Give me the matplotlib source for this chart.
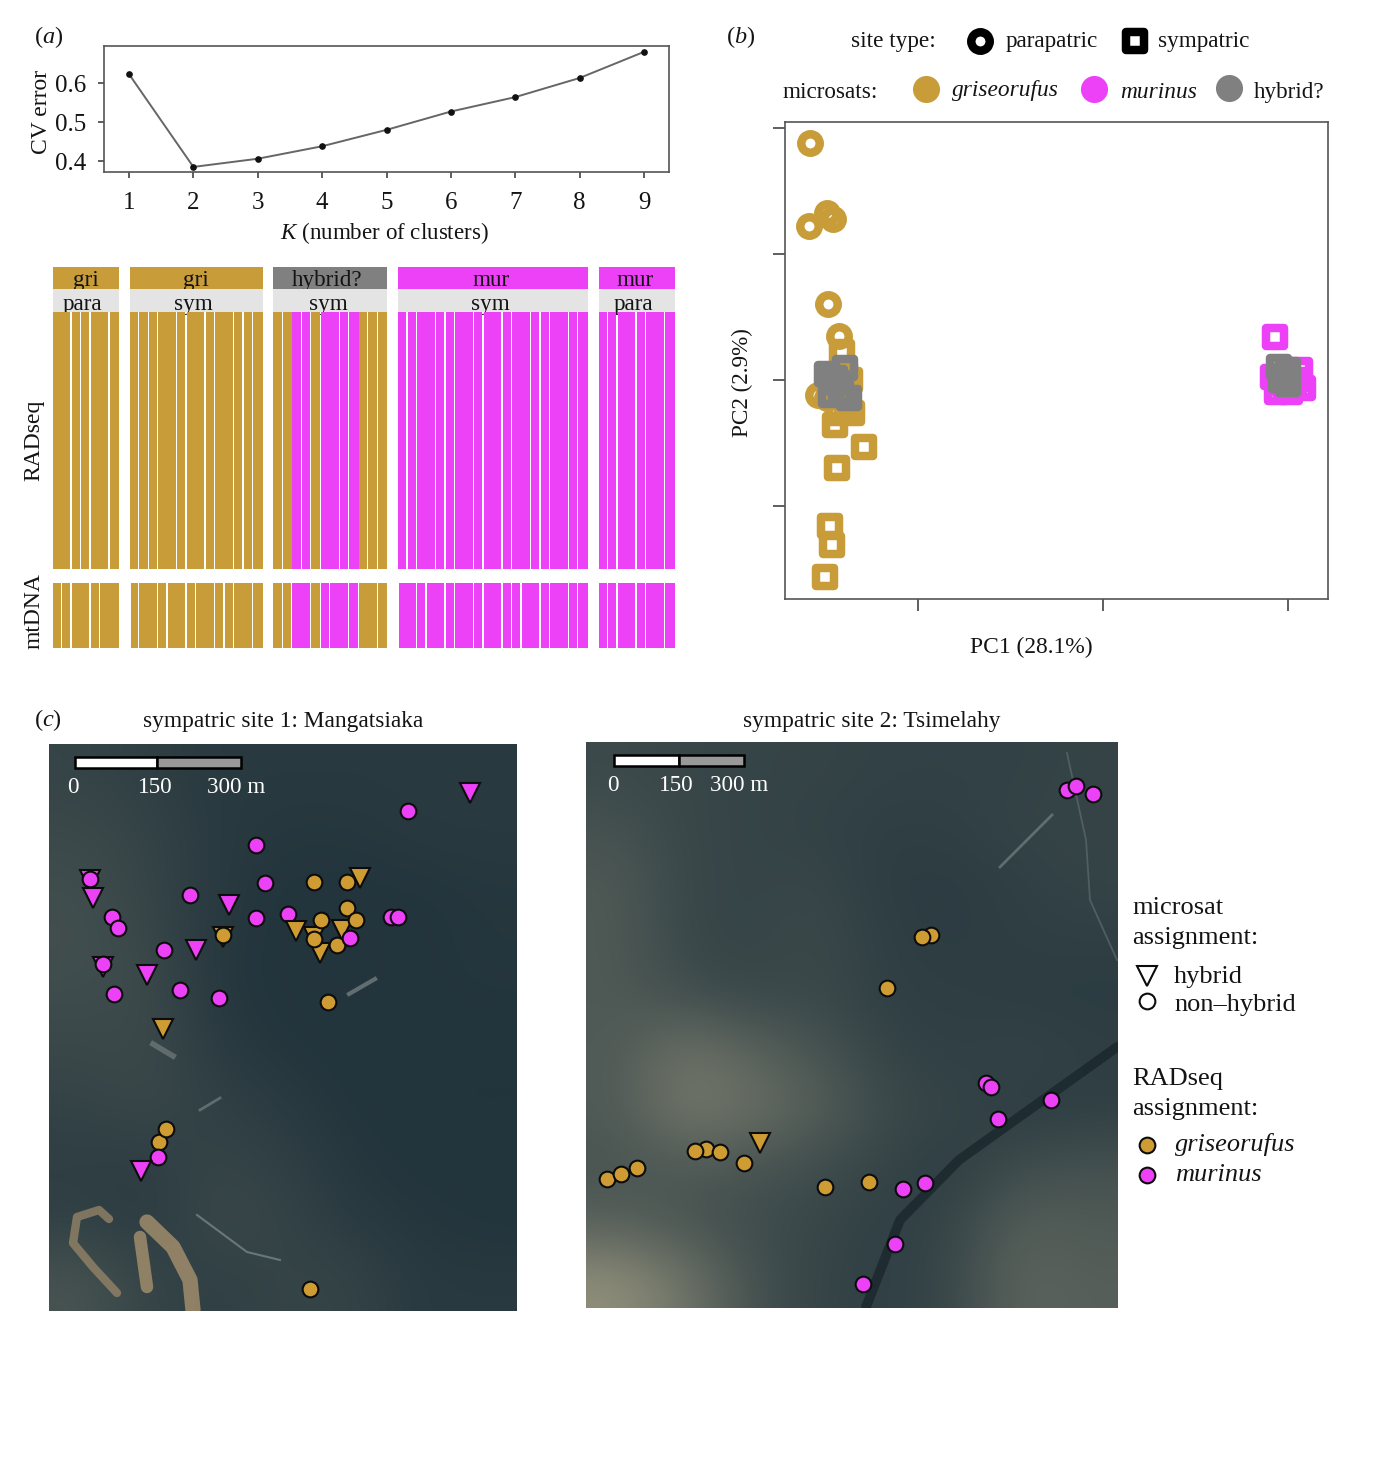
import numpy as np
import matplotlib
matplotlib.use("Agg")
import matplotlib.pyplot as plt
from matplotlib.markers import MarkerStyle
from matplotlib.patches import Rectangle

plt.rcParams['font.family'] = ['Liberation Serif', 'DejaVu Serif']
plt.rcParams['mathtext.fontset'] = 'custom'
plt.rcParams['mathtext.rm'] = 'Liberation Serif'
plt.rcParams['mathtext.it'] = 'Liberation Serif:italic'
plt.rcParams['font.size'] = 16.7

GOLD = '#C79C39'
MAG = '#EC41F6'
GREY = '#808080'
TXT = '#141414'

# panel a, CV error
k_values = [1, 2, 3, 4, 5, 6, 7, 8, 9]
cv_error = [0.623, 0.385, 0.406, 0.438, 0.480, 0.527, 0.564, 0.613, 0.680]

# panel a, ancestry bars: groups of individuals, runs of neighbouring individuals
group_top = ['gri', 'gri', 'hybrid?', 'mur', 'mur']
group_top_col = [GOLD, GOLD, GREY, MAG, MAG]
group_site = ['para', 'sym', 'sym', 'sym', 'para']
group_sizes = [7, 14, 12, 20, 8]
rad_runs = [[2, 1, 1, 2, 1],
            [1, 1, 1, 2, 1, 2, 1, 2, 1, 1, 1],
            [1, 1, 1, 1, 1, 2, 1, 1, 1, 1, 1],
            [1, 1, 2, 1, 1, 2, 1, 2, 1, 2, 1, 1, 2, 1, 1],
            [1, 1, 2, 1, 2, 1]]
rad_cols = ['ggggg', 'ggggggggggg', 'ggmmgmmmggg', 'mmmmmmmmmmmmmmm', 'mmmmmm']
rad_joined = [[], [], [1, 7], [], []]
mt_runs = [[1, 1, 2, 1, 2],
           [1, 2, 1, 2, 1, 2, 1, 1, 2, 1],
           [1, 1, 2, 1, 1, 2, 1, 2, 1],
           [2, 1, 2, 1, 2, 1, 2, 1, 1, 2, 1, 2, 1, 1],
           [1, 1, 2, 1, 2, 1]]
mt_cols = ['ggggg', 'gggggggggg', 'ggmgmmmgg', 'mmmmmmmmmmmmmm', 'mmmmmm']
mt_trim = [0, 1.2, 0, 1.2, 0]

# panel b, PCA scores
gri_para_x = [-0.0585, -0.0588, -0.0494, -0.0458, -0.0485, -0.0425, -0.0539, -0.0494]
gri_para_y = [0.1883, 0.1222, 0.1328, 0.1280, 0.0603, 0.0349, -0.0119, -0.0143]
gri_sym_x = [-0.0412, -0.0395, -0.0358, -0.0447, -0.0432, -0.0384, -0.0294, -0.0436, -0.0474, -0.0466, -0.0501, -0.0416, -0.0370]
gri_sym_y = [0.0225, 0.0056, -0.0260, -0.0357, -0.0262, -0.0198, -0.0534, -0.0701, -0.1156, -0.1310, -0.1566, -0.0095, 0.0]
mur_sym_x = [0.1930, 0.1919, 0.2065, 0.2081, 0.1941, 0.2011, 0.2043, 0.1984]
mur_sym_y = [0.0339, 0.0024, 0.0079, -0.0063, -0.0095, -0.0095, 0.0, -0.0040]
hyb_sym_x = [-0.0494, -0.0396, -0.0470, -0.0373, -0.0432, -0.0449, -0.0416, 0.1951, 0.2000, 0.1962, 0.2000, 0.1978]
hyb_sym_y = [0.0048, 0.0095, -0.0119, -0.0143, -0.0024, 0.0016, -0.0095, 0.0103, 0.0079, 0.0, -0.0032, 0.0032]

# panel c, sample sites in image pixels of each map
s1_gri_x = [264.7, 297.7, 298.3, 272, 307, 174.3, 265, 288, 279.3, 109.7, 117, 261.3]
s1_gri_y = [137.7, 138, 163.7, 175.7, 176.3, 191, 194.7, 200.7, 257.7, 398.3, 385.3, 544.7]
s1_mur_x = [358.7, 206.7, 216.3, 141, 207.3, 239.3, 62.7, 69, 115, 40.7, 54, 64.7, 131, 169.7, 300.7, 341.7, 348.7, 108.7]
s1_mur_y = [66.7, 101, 139.3, 151.3, 174, 170, 173.3, 184.3, 206.3, 135, 220, 250, 246, 254, 194.3, 172.7, 173, 412.7]
s1_hyb_gri_under_x = [174.3, 265, 293, 271]
s1_hyb_gri_under_y = [192.7, 192.7, 186, 209.3]
s1_hyb_mur_under_x = [40.7, 54]
s1_hyb_mur_under_y = [136, 222.7]
s1_hyb_gri_x = [311, 247, 114.3]
s1_hyb_gri_y = [134.3, 187, 284.7]
s1_hyb_mur_x = [421, 44, 180.3, 147, 98.3, 92.3]
s1_hyb_mur_y = [49.3, 154.3, 160.7, 206.3, 231, 427.3]

s2_gri_x = [344.5, 336.3, 301.1, 20.9, 50.8, 35, 120.3, 109.4, 133.5, 158.3, 239.2, 282.5]
s2_gri_y = [192.7, 194.7, 246, 436.7, 426, 431.7, 407.3, 409, 409.7, 421, 444.7, 439.7]
s2_mur_x = [481.3, 490.2, 507.4, 399.7, 404.5, 465.1, 411.7, 339.4, 316.6, 308.8, 277.1]
s2_mur_y = [48, 43.7, 51.7, 340.7, 345.3, 358, 376.7, 441.3, 446.7, 502.3, 542]
s2_hyb_gri_x = [173.5]
s2_hyb_gri_y = [400.7]

# hand read brightness of the two satellite images, coarse grid
s1_bright = [[.20, .18, .16, .16, .16, .16, .16],
             [.22, .20, .16, .15, .15, .16, .16],
             [.24, .20, .16, .14, .14, .14, .15],
             [.24, .22, .15, .14, .15, .14, .15],
             [.22, .22, .16, .14, .14, .14, .14],
             [.20, .22, .18, .16, .14, .14, .14],
             [.18, .18, .20, .18, .15, .14, .14],
             [.18, .16, .22, .20, .16, .15, .14],
             [.26, .20, .18, .20, .20, .16, .16]]
s2_bright = [[.22, .21, .20, .20, .19, .19, .19, .20],
             [.25, .21, .20, .19, .18, .18, .20, .20],
             [.28, .21, .20, .21, .17, .17, .18, .20],
             [.28, .21, .20, .22, .18, .17, .18, .18],
             [.28, .24, .21, .22, .18, .18, .17, .17],
             [.28, .38, .32, .26, .20, .18, .20, .18],
             [.28, .40, .36, .30, .22, .20, .17, .18],
             [.26, .28, .26, .23, .20, .17, .23, .25],
             [.30, .26, .23, .21, .18, .20, .30, .28],
             [.48, .38, .25, .20, .18, .21, .32, .30]]


def px_axes(fig, x0, y0, x1, y1):
    W, H = 1374.0, 1458.0
    return fig.add_axes([x0 / W, 1 - y1 / H, (x1 - x0) / W, (y1 - y0) / H])


def sat_image(bright):
    # dark forest to pale bare ground
    dark = np.array([34, 52, 60]) / 255.0
    light = np.array([150, 148, 126]) / 255.0
    t = np.clip((np.asarray(bright)[:, :, None] - 0.14) / 0.36, 0, 1)
    return dark + t * (light - dark)


fig = plt.figure(figsize=(13.74, 14.58), dpi=100)
canvas = px_axes(fig, 0, 0, 1374, 1458)
canvas.set_xlim(0, 1374)
canvas.set_ylim(1458, 0)
canvas.axis('off')

def label(x, y, s, **kw):
    kw.setdefault('color', TXT)
    kw.setdefault('va', 'center')
    if kw.get('rotation'):
        x += 2.5
    elif kw['va'] == 'center':
        y += 2
    canvas.text(x, y, s, **kw)

label(34, 35, r'($\mathit{a}$)', fontsize=17.5)
label(726, 35, r'($\mathit{b}$)', fontsize=17.5)
label(34, 718, r'($\mathit{c}$)', fontsize=17.5)

# --- panel a top
ax = px_axes(fig, 104, 46, 669, 172)
ax.plot(k_values, cv_error, '-', color='#666666', lw=1.4)
ax.plot(k_values, cv_error, 'o', color='#111111', ms=3.8)
ax.set_xlim(0.612, 9.388)
ax.set_ylim(0.372, 0.695)
ax.set_xticks(k_values)
ax.set_yticks([0.4, 0.5, 0.6])
ax.tick_params(length=4.5, width=1.1, color='#333333', labelcolor=TXT, labelsize=18)
ax.tick_params(axis='x', pad=10)
ax.tick_params(axis='y', pad=8)
for s in ax.spines.values():
    s.set_color('#555555')
    s.set_linewidth(1.2)
label(39, 112, 'CV error', rotation=90, ha='center', fontsize=17)
label(384, 231, r'$\mathit{K}$ (number of clusters)', ha='center', fontsize=16.6)

# --- panel a bars
unit = 9.49
gap = 10.8
line = 1.3
top_y = 267.3
site_y = 289.3
rad_y = 312.0
rad_end = 568.5
mt_y = 583.3
mt_end = 647.7
cmap = {'g': GOLD, 'm': MAG}
top_text_x = [86, 196, 327, 491, 635]
site_text_x = [82, 193, 328, 490, 633]
x0 = 52.6
for i, n in enumerate(group_sizes):
    w = n * unit
    canvas.add_patch(Rectangle((x0, top_y), w, site_y - top_y, fc=group_top_col[i], ec='none', zorder=1))
    label(top_text_x[i], 286, group_top[i], ha='center', va='baseline', zorder=2)
    canvas.add_patch(Rectangle((x0, site_y), w, rad_y - site_y, fc='#E4E4E4', ec='none', zorder=3))
    label(site_text_x[i], 310, group_site[i], ha='center', va='baseline', zorder=4)
    pos = x0
    last = len(rad_runs[i]) - 1
    for j, (r, c) in enumerate(zip(rad_runs[i], rad_cols[i])):
        bw = r * unit - (0 if (j in rad_joined[i] or j == last) else line)
        canvas.bar(pos, rad_end - rad_y, bw, bottom=rad_y, align='edge', color=cmap[c], zorder=5)
        pos += r * unit
    pos = x0
    last = len(mt_runs[i]) - 1
    for j, (r, c) in enumerate(zip(mt_runs[i], mt_cols[i])):
        trim = mt_trim[i] if j == 0 else 0
        bw = r * unit - (0 if j == last else line) - trim
        canvas.bar(pos + trim, mt_end - mt_y, bw, bottom=mt_y, align='edge', color=cmap[c], zorder=5)
        pos += r * unit
    x0 += w + gap
label(31, 440, 'RADseq', rotation=90, ha='center', fontsize=17)
label(31, 611, 'mtDNA', rotation=90, ha='center', fontsize=17)

# --- panel b
ax = px_axes(fig, 785, 122, 1328, 599)
ring = dict(ls='none', mfc='none', ms=13.3, mew=6.1)
sq = MarkerStyle('s', joinstyle='round')
ax.plot(gri_para_x, gri_para_y, marker='o', mec=GOLD, **ring)
ax.plot(gri_sym_x, gri_sym_y, marker=sq, mec=GOLD, **ring)
ax.plot(mur_sym_x, mur_sym_y, marker=sq, mec=MAG, **ring)
ax.plot(hyb_sym_x, hyb_sym_y, marker=sq, mec=GREY, **ring)
ax.set_xlim(-0.0719, 0.2216)
ax.set_ylim(-0.1738, 0.2048)
ax.set_xticks([0, 0.1, 0.2])
ax.set_yticks([-0.1, 0, 0.1, 0.2])
ax.tick_params(labelbottom=False, labelleft=False, length=8.5, width=1.1, color='#333333')
for s in ax.spines.values():
    s.set_color('#555555')
    s.set_linewidth(1.2)
label(740, 383, 'PC2 (2.9%)', rotation=90, ha='center', fontsize=16.7)
label(1031, 645, 'PC1 (28.1%)', ha='center', fontsize=16.9)

# panel b legend
label(851, 39, 'site type:')
canvas.plot([980], [41], marker='o', mfc='none', mec='black', ms=13.3, mew=6.1, ls='none')
label(1006, 39, 'parapatric')
canvas.plot([1135], [41], marker=sq, mfc='none', mec='black', ms=13.3, mew=6.1, ls='none')
label(1158, 39, 'sympatric')
label(782, 90, 'microsats:')
canvas.plot([926], [89], 'o', color=GOLD, ms=19.5, mew=0)
label(952, 88, 'griseorufus', style='italic', fontsize=16.8)
canvas.plot([1094], [89], 'o', color=MAG, ms=19.5, mew=0)
label(1120, 90, 'murinus', style='italic', fontsize=16.8)
canvas.plot([1229], [88], 'o', color=GREY, ms=19.5, mew=0)
label(1254, 90, 'hybrid?')

# --- panel c maps
circ = dict(ls='none', marker='o', ms=11.3, mew=1.5, mec='#0c0c0c')
tri = dict(ls='none', marker='v', ms=15, mew=1.5, mec='#0c0c0c')
MAPGOLD = '#CE9C33'

def scale_bar(ax, x0, x1, x2, labels, label_x):
    y0, y1 = 12.5, 23.5
    ax.add_patch(Rectangle((x0, y0), x1 - x0, y1 - y0, fc='white', ec='black', lw=1.8, zorder=3))
    ax.add_patch(Rectangle((x1, y0), x2 - x1, y1 - y0, fc='#999999', ec='black', lw=1.8, zorder=3))
    for s, x in zip(labels, label_x):
        ax.text(x, 49, s, color='white', ha='center', va='baseline', zorder=3)

def setup_map(ax, w, h):
    ax.set_xlim(0, w)
    ax.set_ylim(h, 0)
    ax.axis('off')

# sympatric site 1
ax = px_axes(fig, 49, 744, 517, 1311)
ax.imshow(sat_image(s1_bright), extent=(0, 468, 567, 0), aspect='auto', interpolation='bicubic')
soil = '#A08C6C'
ax.plot([60, 50, 28, 24, 44, 68], [475, 466, 473, 499, 523, 549], color=soil, lw=6, alpha=.7, solid_capstyle='round')
ax.plot([91, 98], [493, 543], color=soil, lw=9, alpha=.85, solid_capstyle='round')
ax.plot([98, 124, 141, 144], [478, 503, 536, 566], color=soil, lw=11, alpha=.85, solid_capstyle='round')
ax.plot([148, 198, 231], [471, 508, 516], color='#8c9a98', lw=1.5, alpha=.6)
ax.plot([151, 171], [366, 354], color='#8c9a98', lw=2, alpha=.5)
ax.plot([300, 326], [250, 235], color='#a0a8a6', lw=3, alpha=.5)
ax.plot([104, 124], [300, 312], color='#a0a8a6', lw=4, alpha=.4)
ax.plot(s1_hyb_gri_under_x, s1_hyb_gri_under_y, mfc=MAPGOLD, **tri)
ax.plot(s1_hyb_mur_under_x, s1_hyb_mur_under_y, mfc=MAG, **tri)
ax.plot(s1_gri_x, s1_gri_y, mfc=MAPGOLD, **circ)
ax.plot(s1_mur_x, s1_mur_y, mfc=MAG, **circ)
ax.plot(s1_hyb_gri_x, s1_hyb_gri_y, mfc=MAPGOLD, **tri)
ax.plot(s1_hyb_mur_x, s1_hyb_mur_y, mfc=MAG, **tri)
scale_bar(ax, 26, 108, 192, ['0', '150', '300 m'], [24, 106, 187])
setup_map(ax, 468, 567)

# sympatric site 2
ax = px_axes(fig, 586, 742, 1118, 1308)
ax.imshow(sat_image(s2_bright), extent=(0, 532, 566, 0), aspect='auto', interpolation='bicubic')
ax.plot([531, 373, 314, 280], [305, 418, 478, 565], color='#16242a', lw=7, alpha=.7, solid_capstyle='round')
ax.plot([466, 414], [73, 125], color='#8c9a98', lw=2, alpha=.5)
ax.plot([481, 500, 504, 531], [11, 98, 158, 218], color='#6c7c7e', lw=1.3, alpha=.5)
ax.plot(s2_gri_x, s2_gri_y, mfc=MAPGOLD, **circ)
ax.plot(s2_mur_x, s2_mur_y, mfc=MAG, **circ)
ax.plot(s2_hyb_gri_x, s2_hyb_gri_y, mfc=MAPGOLD, **tri)
scale_bar(ax, 28, 93, 158, ['0', '150', '300 m'], [27, 90, 153.5])
setup_map(ax, 532, 566)

label(283, 719, 'sympatric site 1: Mangatsiaka', ha='center', fontsize=16.8)
label(872, 719, 'sympatric site 2: Tsimelahy', ha='center', fontsize=16.8)

# panel c legend
fs = 19
label(1132, 906, 'microsat', fontsize=fs)
label(1132, 936, 'assignment:', fontsize=fs)
canvas.plot([1147], [976], marker='v', mfc='none', mec='#0c0c0c', ms=15, mew=1.5, ls='none')
label(1174, 975, 'hybrid', fontsize=fs)
canvas.plot([1147], [1001], marker='o', mfc='none', mec='#0c0c0c', ms=11.3, mew=1.5, ls='none')
label(1174, 1003, 'non\u2013hybrid', fontsize=fs)
label(1132, 1077, 'RADseq', fontsize=fs)
label(1132, 1107, 'assignment:', fontsize=fs)
canvas.plot([1147], [1145], marker='o', mfc=MAPGOLD, mec='#0c0c0c', ms=11.3, mew=1.5, ls='none')
label(1175, 1143, 'griseorufus', style='italic', fontsize=fs)
canvas.plot([1147], [1175], marker='o', mfc=MAG, mec='#0c0c0c', ms=11.3, mew=1.5, ls='none')
label(1175, 1173, 'murinus', style='italic', fontsize=fs)

canvas.set_xlim(0, 1374)
canvas.set_ylim(1458, 0)
fig.savefig('out.png', dpi=100)
